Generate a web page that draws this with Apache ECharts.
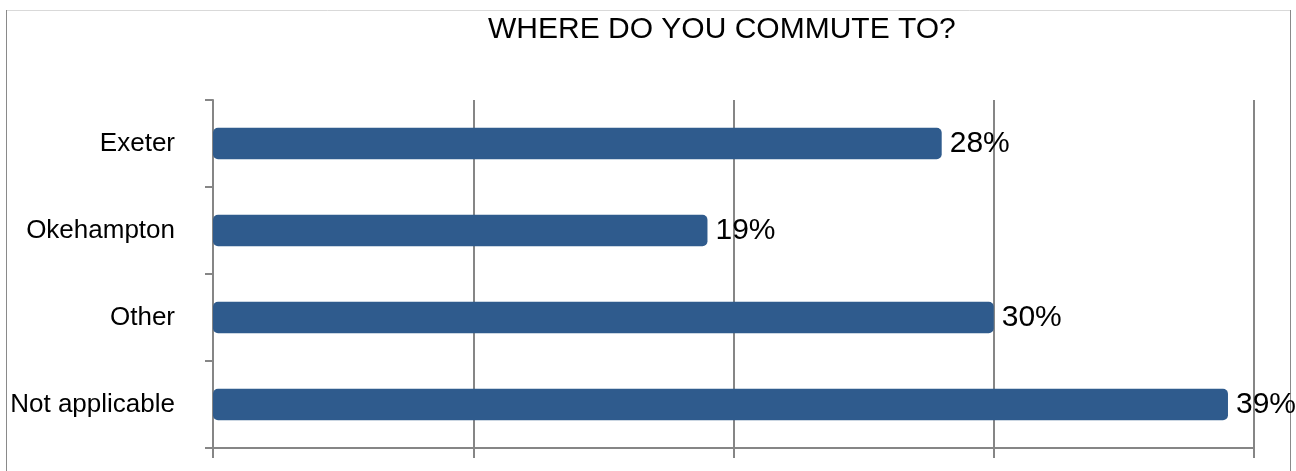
<!DOCTYPE html>
<html>
<head>
<meta charset="utf-8">
<style>
  html, body { margin: 0; padding: 0; background: #ffffff; }
  #chart { width: 1296px; height: 471px; }
</style>
<script src="https://cdn.jsdelivr.net/npm/echarts@6/dist/echarts.min.js"></script>
</head>
<body>
<div id="chart"></div>
<script>
// Commute destinations, in display order (top to bottom)
const categories = ['Exeter', 'Okehampton', 'Other', 'Not applicable'];
// Share of respondents, percent
const shares = [28, 19, 30, 39];
const titleText = 'WHERE DO YOU COMMUTE TO?';

const chart = echarts.init(document.getElementById('chart'), null, { renderer: 'canvas' });
const fontFamily = '"Liberation Sans", Arial, sans-serif';
const axisGray = '#868686';

chart.setOption({
  backgroundColor: '#ffffff',
  animation: false,
  title: {
    text: titleText,
    left: 483,
    top: 10,
    textStyle: { fontFamily, fontSize: 30, fontWeight: 'normal', color: '#000000' }
  },
  grid: { left: 213, right: 42, top: 100, bottom: 23, containLabel: false },
  xAxis: {
    type: 'value',
    min: 0,
    max: 40,
    interval: 10,
    axisLabel: { show: false },
    axisLine: { show: true, lineStyle: { color: axisGray, width: 2 } },
    axisTick: { show: true, length: 10, lineStyle: { color: axisGray, width: 2 } },
    splitLine: { show: true, lineStyle: { color: axisGray, width: 2 } }
  },
  yAxis: {
    type: 'category',
    data: categories,
    inverse: true,
    axisLine: { show: true, lineStyle: { color: axisGray, width: 2 } },
    axisTick: { show: true, length: 8, lineStyle: { color: axisGray, width: 2 } },
    axisLabel: { fontFamily, fontSize: 26, color: '#000000', margin: 38 }
  },
  series: [{
    type: 'bar',
    data: shares,
    barWidth: '36%',
    itemStyle: { color: '#2f5b8d', borderRadius: 5 },
    label: {
      show: true,
      position: 'right',
      distance: 8,
      formatter: '{c}%',
      fontFamily,
      fontSize: 30,
      color: '#000000'
    }
  }],
  graphic: [
    { type: 'line', silent: true, shape: { x1: 6, y1: 10.5, x2: 1291, y2: 10.5 }, style: { stroke: '#d9d9d9', lineWidth: 1 } },
    { type: 'line', silent: true, shape: { x1: 6.5, y1: 10, x2: 6.5, y2: 471 }, style: { stroke: '#8a8a8a', lineWidth: 1 } },
    { type: 'line', silent: true, shape: { x1: 1290.5, y1: 10, x2: 1290.5, y2: 471 }, style: { stroke: '#8a8a8a', lineWidth: 1 } }
  ]
});
</script>
</body>
</html>
